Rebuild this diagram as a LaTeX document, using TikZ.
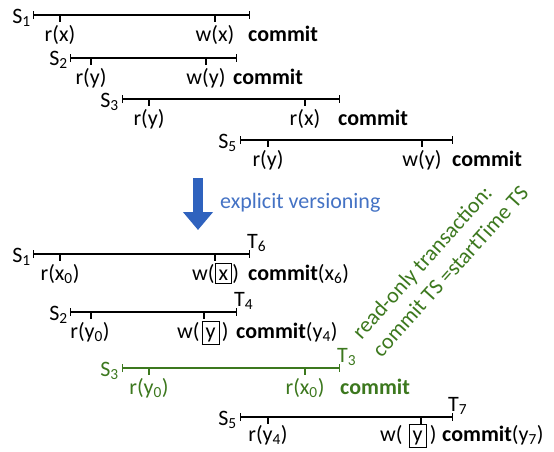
\documentclass[tikz,border=0pt]{standalone}
\usepackage{fontspec}
\setmainfont{Carlito}
\usetikzlibrary{arrows.meta}
\definecolor{rogreen}{RGB}{60,120,30}
\definecolor{evblue}{RGB}{68,114,196}
\definecolor{arrblue}{RGB}{47,98,190}
\newcommand{\verbox}[1]{{\setlength{\fboxsep}{2pt}\setlength{\fboxrule}{1.1pt}\fbox{\rule[-1pt]{0pt}{15pt}\hspace{1pt}#1\hspace{1pt}}}}

\begin{document}
\begin{tikzpicture}[x=1pt,y=-1pt,
    every node/.style={font=\fontsize{22}{27}\selectfont,inner sep=0pt},
    tl/.style={line width=1.3pt,{Bar[width=8pt]}-{Bar[width=8pt]}},
    tk/.style={line width=1.3pt},
    op/.style={anchor=base},
    opw/.style={anchor=base west},
    cmtlab/.style={anchor=base west,font=\fontsize{22}{27}\selectfont\bfseries},
    sn/.style={anchor=base east},
    tn/.style={anchor=base west}]
\useasboundingbox (0,0) rectangle (554,451);
% schedules without versions
\coordinate (a1) at (33,15); \coordinate (b1) at (250,15);
\coordinate (a1r) at (60,15); \coordinate (a1w) at (215,15);
\draw[tl] (a1) -- (b1);
\draw[tk] (a1r) -- ++(0,7) (a1w) -- ++(0,7);
\node[sn] (s1) at (31,23) {S\textsubscript{1}};
\node[op] (s1r) at (60,41) {r(x)};
\node[op] (s1w) at (215,41) {w(x)};
\node[cmtlab] (s1c) at (248,41) {commit};

\coordinate (a2) at (70,58); \coordinate (b2) at (237,58);
\coordinate (a2r) at (91,58); \coordinate (a2w) at (206,58);
\draw[tl] (a2) -- (b2);
\draw[tk] (a2r) -- ++(0,7) (a2w) -- ++(0,7);
\node[sn] (s2) at (68,65) {S\textsubscript{2}};
\node[op] (s2r) at (91,84) {r(y)};
\node[op] (s2w) at (206,84) {w(y)};
\node[cmtlab] (s2c) at (233,84) {commit};

\coordinate (a3) at (122,99); \coordinate (b3) at (340,99);
\coordinate (a3r) at (149,99); \coordinate (a3x) at (305,99);
\draw[tl] (a3) -- (b3);
\draw[tk] (a3r) -- ++(0,7) (a3x) -- ++(0,7);
\node[sn] (s3) at (119,107) {S\textsubscript{3}};
\node[op] (s3r) at (149,125) {r(y)};
\node[op] (s3x) at (305,125) {r(x)};
\node[cmtlab] (s3c) at (338,125) {commit};

\coordinate (a5) at (240,140); \coordinate (b5) at (453,140);
\coordinate (a5r) at (268,140); \coordinate (a5w) at (422,140);
\draw[tl] (a5) -- (b5);
\draw[tk] (a5r) -- ++(0,7) (a5w) -- ++(0,7);
\node[sn] (s5) at (237,148) {S\textsubscript{5}};
\node[op] (s5r) at (268,166) {r(y)};
\node[op] (s5w) at (422,166) {w(y)};
\node[cmtlab] (s5c) at (452,166) {commit};

% versioning arrow
\coordinate (vtop) at (198,178); \coordinate (vbot) at (198,230);
\draw[arrblue,line width=10pt,-{Triangle[width=29pt,length=18pt]}] (vtop) -- (vbot);
\node[anchor=base west,text=evblue] (ev) at (220,208) {explicit versioning};

% schedules with versions
\coordinate (c1) at (33,254); \coordinate (d1) at (250,254);
\coordinate (c1r) at (60,254); \coordinate (c1w) at (215,254);
\draw[tl] (c1) -- (d1);
\draw[tk] (c1r) -- ++(0,7) (c1w) -- ++(0,7);
\node[sn] (v1) at (31,262) {S\textsubscript{1}};
\node[tn] (t6) at (247,248) {T\textsubscript{6}};
\node[op] (v1r) at (60,280) {r(x\textsubscript{0})};
\node[opw] (v1w) at (192,280) {w(\verbox{x})};
\node[opw] (v1c) at (248,280) {\textbf{commit}(x\textsubscript{6})};

\coordinate (c2) at (70,312); \coordinate (d2) at (237,312);
\coordinate (c2r) at (91,312); \coordinate (c2w) at (204,312);
\draw[tl] (c2) -- (d2);
\draw[tk] (c2r) -- ++(0,7) (c2w) -- ++(0,7);
\node[sn] (v2) at (68,320) {S\textsubscript{2}};
\node[tn] (t4) at (234,306) {T\textsubscript{4}};
\node[op] (v2r) at (90,338) {r(y\textsubscript{0})};
\node[opw] (v2w) at (177,338) {w(\hspace{2pt}\verbox{y}\hspace{2pt})};
\node[opw] (v2c) at (236,338) {\textbf{commit}(y\textsubscript{4})};

\begin{scope}[rogreen]
\coordinate (c3) at (122,368); \coordinate (d3) at (340,368);
\coordinate (c3r) at (149,368); \coordinate (c3x) at (305,368);
\draw[tl] (c3) -- (d3);
\draw[tk] (c3r) -- ++(0,7) (c3x) -- ++(0,7);
\node[sn,text=rogreen] (v3) at (119,376) {S\textsubscript{3}};
\node[tn,text=rogreen] (t3) at (337,362) {T\textsubscript{3}};
\node[op,text=rogreen] (v3r) at (149,394) {r(y\textsubscript{0})};
\node[op,text=rogreen] (v3x) at (305,394) {r(x\textsubscript{0})};
\node[cmtlab,text=rogreen] (v3c) at (340,394) {commit};
\end{scope}

\coordinate (c5) at (240,417); \coordinate (d5) at (453,417);
\coordinate (c5r) at (268,417); \coordinate (c5w) at (421,417);
\draw[tl] (c5) -- (d5);
\draw[tk] (c5r) -- ++(0,7) (c5w) -- ++(0,7);
\node[sn] (v5) at (237,425) {S\textsubscript{5}};
\node[tn] (t7) at (448,411) {T\textsubscript{7}};
\node[op] (v5r) at (268,441) {r(y\textsubscript{4})};
\node[opw] (v5w) at (380,441) {w(\hspace{6pt}\verbox{y}\hspace{3pt})};
\node[opw] (v5c) at (442,441) {\textbf{commit}(y\textsubscript{7})};

\node[rotate=48,align=left,text=rogreen] (ro) at (440,262)
  {read-only transaction:\\commit TS =startTime TS};
\end{tikzpicture}
\end{document}
